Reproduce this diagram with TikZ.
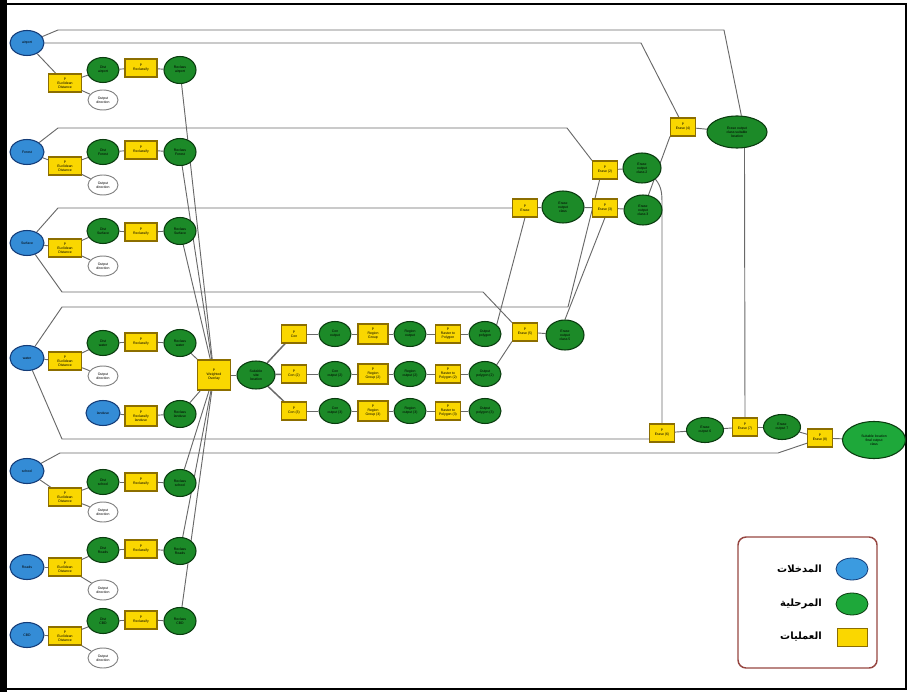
\documentclass[tikz,border=0pt]{standalone}
\usepackage{fontspec}
\setmainfont{Liberation Sans}
\newfontfamily\arabicfont[Script=Arabic]{DejaVu Sans}
\TeXXeTstate=1
\usetikzlibrary{shapes.geometric}
\pgfdeclarelayer{bg}
\pgfsetlayers{bg,main}
\definecolor{inblue}{RGB}{52,140,214}
\definecolor{inblueD}{RGB}{20,60,120}
\definecolor{outgreen}{RGB}{28,138,40}
\definecolor{outgreenD}{RGB}{10,60,15}
\definecolor{toolyel}{RGB}{250,215,0}
\definecolor{toolyelD}{RGB}{140,110,0}
\definecolor{lnk}{RGB}{105,105,105}
\definecolor{legred}{RGB}{150,70,65}
\definecolor{legblue}{RGB}{59,155,224}
\definecolor{leggreen}{RGB}{30,168,58}
\tikzset{
  base/.style={inner sep=0pt, align=center, font=\fontsize{2.6}{2.9}\selectfont, text=black},
  inp/.style={base, ellipse, draw=inblueD, fill=inblue, line width=0.8pt},
  outp/.style={base, ellipse, draw=outgreenD, fill=outgreen, line width=0.8pt},
  tool/.style={base, rectangle, draw=toolyelD, fill=toolyel, line width=0.8pt},
  aux/.style={base, ellipse, draw=gray, fill=white, line width=0.7pt},
  link/.style={draw=lnk, line width=0.7pt},
  sz/.style 2 args={minimum width=#1*0.75pt, minimum height=#2*0.75pt},
  legtxt/.style={anchor=east, inner sep=0pt, font=\arabicfont\bfseries\fontsize{7.5}{9}\selectfont}
}
\begin{document}
\begin{tikzpicture}[x=0.75pt,y=-0.75pt]
\useasboundingbox (0,0) rectangle (910,695);
% frame
\fill[black] (0,0) rectangle (7,692);
\draw[black, line width=1.6pt] (4,4) rectangle (906,689);

% central nodes
\node[tool, sz={33}{30}] (wo) at (214,375) {P\\Weighted\\Overlay};
\node[outp, sz={38}{28}] (sg) at (256,375) {Suitable\\site\\location};

% left rows
\foreach \i/\yb/\ye/\yd/\yr/\yc/\yw/\nm in {
  1/43/83/70/68/70/100/airport,
  2/152/166/152/150/152/185/Forest,
  3/243/248/231/232/231/266/Surface,
  4/358/361/343/342/343/376/water,
  5/471/497/482/482/483/512/school,
  6/567/567/550/549/551/590/Roads,
  7/635/636/621/620/621/658/CBD}{
  \node[inp, sz={34}{25}] (b\i) at (27,\yb) {\nm};
  \node[tool, sz={33}{18}] (e\i) at (65,\ye) {P\\Euclidean\\Distance};
  \node[outp, sz={32}{25}] (d\i) at (103,\yd) {Dist\\\nm};
  \node[tool, sz={32}{18}] (r\i) at (141,\yr) {P\\Reclassify};
  \node[outp, sz={32}{27}] (c\i) at (180,\yc) {Reclass\\\nm};
  \node[aux, sz={30}{20}] (w\i) at (103,\yw) {Output\\direction};
  \begin{pgfonlayer}{bg}
    \draw[link] (b\i) -- (e\i);
    \draw[link] (e\i) -- (d\i);
    \draw[link] (d\i) -- (r\i);
    \draw[link] (r\i) -- (c\i);
    \draw[link] (e\i) -- (w\i);
    \draw[link] (c\i) -- (wo);
  \end{pgfonlayer}
}
% landuse row
\node[inp, sz={34}{25}] (lu) at (103,413) {landuse};
\node[tool, sz={32}{20}] (lr) at (141,416) {P\\Reclassify\\landuse};
\node[outp, sz={32}{27}] (lc) at (180,414) {Reclass\\landuse};

% branches
\foreach \j/\y/\s in {1/334/,2/374/ (2),3/411/ (3)}{
  \node[tool, sz={25}{18}] (k\j) at (294,\y) {P\\Con\s};
  \node[outp, sz={32}{25}] (m\j) at (335,\y) {Con\\output\s};
  \node[tool, sz={30}{20}] (n\j) at (373,\y) {P\\Region\\Group\s};
  \node[outp, sz={32}{25}] (o\j) at (410,\y) {Region\\output\s};
  \node[tool, sz={25}{18}] (p\j) at (448,\y) {P\\Raster to\\Polygon\s};
  \node[outp, sz={32}{25}] (q\j) at (485,\y) {Output\\polygon\s};
  \begin{pgfonlayer}{bg}
    \draw[link, line width=1.1pt] (sg) -- (k\j);
    \draw[link] (k\j) -- (m\j);
    \draw[link] (m\j) -- (n\j);
    \draw[link] (n\j) -- (o\j);
    \draw[link] (o\j) -- (p\j);
    \draw[link] (p\j) -- (q\j);
  \end{pgfonlayer}
}

% right side
\node[tool, sz={25}{18}] (er1) at (525,208) {P\\Erase};
\node[outp, sz={42}{32}] (gE1) at (563,207) {Erase\\output\\class};
\node[tool, sz={25}{18}] (er2) at (605,170) {P\\Erase (2)};
\node[tool, sz={25}{18}] (er5) at (605,208) {P\\Erase (3)};
\node[outp, sz={38}{30}] (gE2) at (642,168) {Erase\\output\\class 2};
\node[outp, sz={38}{30}] (gE3) at (643,210) {Erase\\output\\class 3};
\node[tool, sz={25}{18}] (er4) at (683,127) {P\\Erase (4)};
\node[outp, sz={60}{32}] (bigG) at (737,132) {Erase output\\class suitable\\location};
\node[tool, sz={25}{18}] (er3) at (525,332) {P\\Erase (5)};
\node[outp, sz={38}{30}] (gE4) at (565,335) {Erase\\output\\class 5};
\node[tool, sz={25}{18}] (er6) at (662,433) {P\\Erase (6)};
\node[outp, sz={37}{25}] (gF1) at (705,430) {Erase\\output 6};
\node[tool, sz={25}{18}] (er7) at (745,427) {P\\Erase (7)};
\node[outp, sz={37}{25}] (gF2) at (782,427) {Erase\\output 7};
\node[tool, sz={25}{18}] (er8) at (820,438) {P\\Erase (8)};
\node[outp, fill=leggreen, sz={63}{37}] (fin) at (874,440) {Suitable location\\final output\\class};

\coordinate (gEnd) at (649.5,439);
\coordinate (hEnd) at (807.5,443);

\begin{pgfonlayer}{bg}
  \draw[link] (lu) -- (lr);
  \draw[link] (lr) -- (lc);
  \draw[link] (lc) -- (wo);
  \draw[link] (wo) -- (sg);
  % long routes
  \draw[link] (b1) -- (58,30) -- (724,30) -- (bigG.75);
  \draw[link] (b1.east) -- (641,43) -- ([xshift=-3pt]er4.north);
  \draw[link] (b2) -- (58,128) -- (567,128) -- (er2.north west);
  \draw[link] (b3) -- (58,208) -- (er1.west);
  \draw[link] (b3) -- (62,292) -- (483,292) -- (er3.north west);
  \draw[link] (b4) -- (62,307) -- (568,307) -- ([xshift=-4pt]er2.south);
  \draw[link] (b4) -- (62,439) -- (gEnd);
  \draw[link] (b5) -- (60,453) -- (778,453) -- (hEnd);
  % erase chains
  \draw[link] (er1) -- (gE1);
  \draw[link] (gE1) -- (er5);
  \draw[link] (er5) -- (gE3);
  \draw[link] (er2) -- (gE2);
  \draw[link] (gE3.70) -- (er4.south west);
  \draw[link] (er4) -- (bigG);
  \draw[link] (q1.north east) -- (er1.south);
  \draw[link] (q2.north east) -- (er3.south west);
  \draw[link] (er3) -- (gE4);
  \draw[link] (gE4.north) -- (er5.south);
  \draw[link] (gE2.-40) to[out=-50,in=90] (662,205) -- (er6.north);
  \draw[link] (bigG.-65) -- (er7.north);
  \draw[link] (er6) -- (gF1);
  \draw[link] (gF1) -- (er7);
  \draw[link] (er7) -- (gF2);
  \draw[link] (gF2) -- (er8);
  \draw[link] (er8) -- (fin);
\end{pgfonlayer}

% legend
\node[draw=legred, line width=1.1pt, rounded corners=6pt, sz={139}{131}] (leg) at (807.5,602.5) {};
\node[ellipse, draw=inblueD, fill=legblue, line width=0.6pt, sz={32}{22}] (lb) at (852,569) {};
\node[ellipse, draw=outgreenD, fill=leggreen, line width=0.6pt, sz={32}{22}] (lg) at (852,604) {};
\node[rectangle, draw=toolyelD, fill=toolyel, line width=0.6pt, sz={30}{18}] (ly) at (852,637) {};
\node[legtxt] (lt1) at (822,569) {\beginR المدخلات\endR};
\node[legtxt] (lt2) at (822,604) {\beginR المرحلية\endR};
\node[legtxt] (lt3) at (822,637) {\beginR العمليات\endR};
\end{tikzpicture}
\end{document}
